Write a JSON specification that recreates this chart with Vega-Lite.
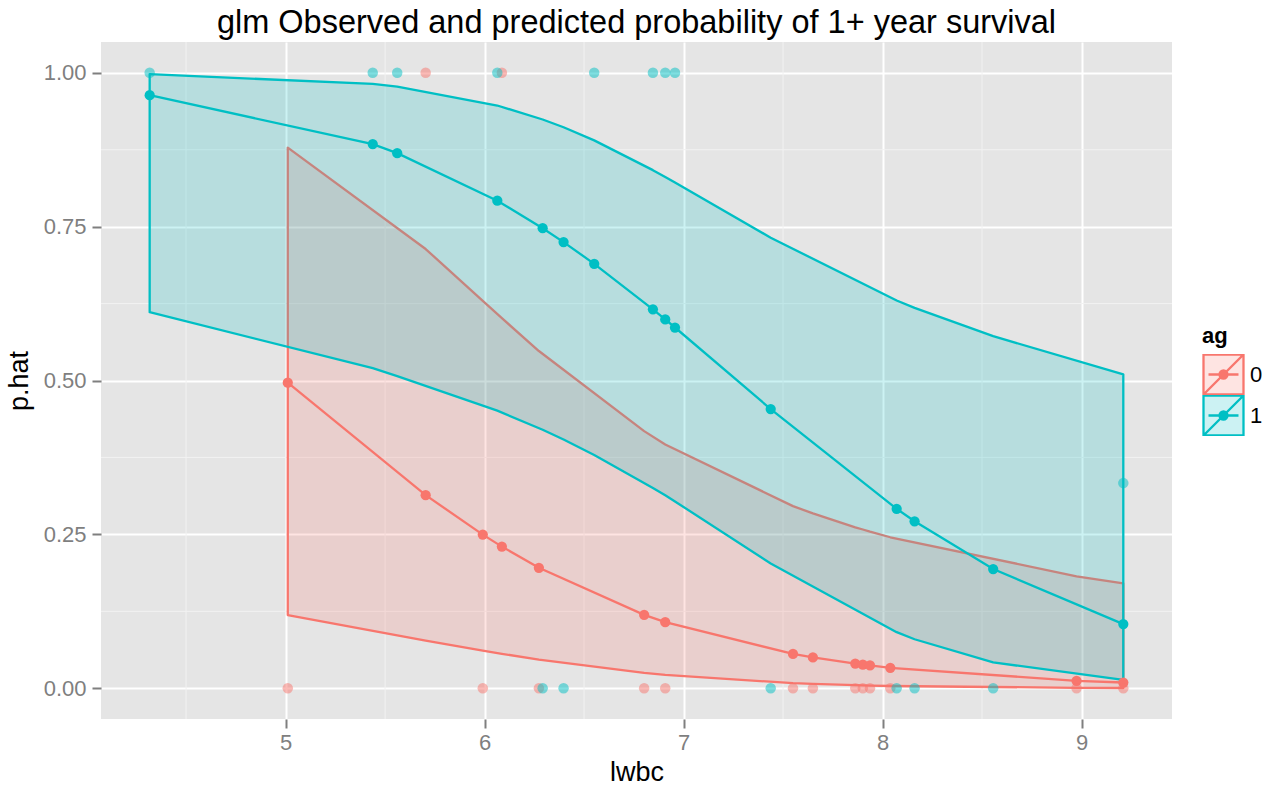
{
  "$schema": "https://vega.github.io/schema/vega-lite/v6.json",
  "width": 1071,
  "height": 677,
  "autosize": "none",
  "padding": {"left": 101, "top": 42, "right": 101, "bottom": 67},
  "background": "white",
  "config": {
    "font": "Liberation Sans",
    "view": {"fill": "#E5E5E5", "stroke": null},
    "axis": {
      "domain": false,
      "grid": true,
      "gridColor": "#FFFFFF",
      "gridWidth": 2,
      "tickColor": "#7F7F7F",
      "tickSize": 9,
      "tickWidth": 2,
      "labelColor": "#7F7F7F",
      "labelFontSize": 22,
      "labelFont": "Liberation Sans",
      "titleFont": "Liberation Sans",
      "titleFontSize": 27,
      "titleFontWeight": "normal",
      "titleColor": "#000000"
    }
  },
  "title": {
    "text": "glm Observed and predicted probability of 1+ year survival",
    "fontSize": 32.5,
    "fontWeight": "normal",
    "font": "Liberation Sans",
    "color": "#000000",
    "anchor": "middle",
    "offset": 2
  },
  "datasets": {
    "fit": [
      {"lwbc": 5.011, "ag": "0", "phat": 0.4965, "lo": 0.1188, "hi": 0.8783, "obs": 0},
      {"lwbc": 5.704, "ag": "0", "phat": 0.3137, "lo": 0.0774, "hi": 0.7136, "obs": 1},
      {"lwbc": 5.991, "ag": "0", "phat": 0.2496, "lo": 0.0611, "hi": 0.6295, "obs": 0},
      {"lwbc": 6.087, "ag": "0", "phat": 0.2301, "lo": 0.0560, "hi": 0.6013, "obs": 1},
      {"lwbc": 6.273, "ag": "0", "phat": 0.1957, "lo": 0.0465, "hi": 0.5479, "obs": 0},
      {"lwbc": 6.802, "ag": "0", "phat": 0.1192, "lo": 0.0249, "hi": 0.4177, "obs": 0},
      {"lwbc": 6.908, "ag": "0", "phat": 0.1074, "lo": 0.0216, "hi": 0.3960, "obs": 0},
      {"lwbc": 7.550, "ag": "0", "phat": 0.0557, "lo": 0.0082, "hi": 0.2959, "obs": 0},
      {"lwbc": 7.650, "ag": "0", "phat": 0.0501, "lo": 0.0070, "hi": 0.2840, "obs": 0},
      {"lwbc": 7.863, "ag": "0", "phat": 0.0400, "lo": 0.0049, "hi": 0.2615, "obs": 0},
      {"lwbc": 7.901, "ag": "0", "phat": 0.0384, "lo": 0.0046, "hi": 0.2579, "obs": 0},
      {"lwbc": 7.937, "ag": "0", "phat": 0.0370, "lo": 0.0043, "hi": 0.2544, "obs": 0},
      {"lwbc": 8.039, "ag": "0", "phat": 0.0332, "lo": 0.0036, "hi": 0.2453, "obs": 0},
      {"lwbc": 8.975, "ag": "0", "phat": 0.0120, "lo": 0.0007, "hi": 0.1819, "obs": 0},
      {"lwbc": 9.210, "ag": "0", "phat": 0.0093, "lo": 0.0004, "hi": 0.1702, "obs": 0},
      {"lwbc": 4.317, "ag": "1", "phat": 0.9636, "lo": 0.611, "hi": 0.9978, "obs": 1},
      {"lwbc": 5.438, "ag": "1", "phat": 0.8841, "lo": 0.520, "hi": 0.9818, "obs": 1},
      {"lwbc": 5.561, "ag": "1", "phat": 0.8694, "lo": 0.507, "hi": 0.9774, "obs": 1},
      {"lwbc": 6.064, "ag": "1", "phat": 0.7922, "lo": 0.451, "hi": 0.9468, "obs": 1},
      {"lwbc": 6.292, "ag": "1", "phat": 0.7475, "lo": 0.4200, "hi": 0.9241, "obs": 0},
      {"lwbc": 6.397, "ag": "1", "phat": 0.7249, "lo": 0.4040, "hi": 0.9115, "obs": 0},
      {"lwbc": 6.551, "ag": "1", "phat": 0.6896, "lo": 0.3790, "hi": 0.8902, "obs": 1},
      {"lwbc": 6.846, "ag": "1", "phat": 0.6156, "lo": 0.3255, "hi": 0.8418, "obs": 1},
      {"lwbc": 6.908, "ag": "1", "phat": 0.5992, "lo": 0.3135, "hi": 0.8306, "obs": 1},
      {"lwbc": 6.957, "ag": "1", "phat": 0.5861, "lo": 0.3035, "hi": 0.8218, "obs": 1},
      {"lwbc": 7.438, "ag": "1", "phat": 0.4536, "lo": 0.2026, "hi": 0.7320, "obs": 0},
      {"lwbc": 8.071, "ag": "1", "phat": 0.2915, "lo": 0.0911, "hi": 0.6300, "obs": 0},
      {"lwbc": 8.161, "ag": "1", "phat": 0.2713, "lo": 0.0796, "hi": 0.6180, "obs": 0},
      {"lwbc": 8.556, "ag": "1", "phat": 0.1937, "lo": 0.0420, "hi": 0.5720, "obs": 0},
      {"lwbc": 9.210, "ag": "1", "phat": 0.1042, "lo": 0.0135, "hi": 0.5100, "obs": 0.3333}
    ],
    "xminor": [{"m": 4.5}, {"m": 5.5}, {"m": 6.5}, {"m": 7.5}, {"m": 8.5}],
    "yminor": [{"m": 0.125}, {"m": 0.375}, {"m": 0.625}, {"m": 0.875}]
  },
  "encoding": {
    "x": {
      "type": "quantitative",
      "scale": {"domain": [4.0724, 9.4547], "nice": false, "zero": false},
      "axis": {"values": [5, 6, 7, 8, 9], "title": "lwbc", "labelPadding": 4, "titlePadding": 6}
    },
    "y": {
      "type": "quantitative",
      "scale": {"domain": [-0.05, 1.05], "nice": false, "zero": false},
      "axis": {"values": [0, 0.25, 0.5, 0.75, 1], "format": ".2f", "title": "p.hat", "labelPadding": 6, "titlePadding": 10}
    }
  },
  "layer": [
    {
      "data": {"name": "xminor"},
      "mark": {"type": "rule", "color": "#F2F2F2", "strokeWidth": 1},
      "encoding": {"x": {"field": "m", "type": "quantitative"}}
    },
    {
      "data": {"name": "yminor"},
      "mark": {"type": "rule", "color": "#F2F2F2", "strokeWidth": 1},
      "encoding": {"y": {"field": "m", "type": "quantitative"}}
    },
    {
      "data": {"name": "fit"},
      "mark": {"type": "area", "fillOpacity": 0.2, "strokeWidth": 2.3, "strokeJoin": "round"},
      "encoding": {
        "x": {"field": "lwbc", "type": "quantitative"},
        "y": {"field": "lo", "type": "quantitative"},
        "y2": {"field": "hi"},
        "color": {
          "field": "ag",
          "type": "nominal",
          "scale": {"domain": ["0", "1"], "range": ["#F8766D", "#00BFC4"]},
          "legend": {
            "title": "ag",
            "orient": "none",
            "legendX": 1101,
            "legendY": 284,
            "titleFontSize": 22,
            "titleFontWeight": "bold",
            "titleColor": "#000000",
            "titlePadding": 6,
            "labelFontSize": 22,
            "labelColor": "#000000",
            "labelOffset": 9,
            "symbolType": "M-1,-1.111H1.222V1.111H-1Z M-1,1.111L1.222,-1.111 M-0.722,0H0.944 M-0.111,0A0.222,0.222 0 1,0 0.333,0A0.222,0.222 0 1,0 -0.111,0 M0.011,0A0.1,0.1 0 1,0 0.211,0A0.1,0.1 0 1,0 0.011,0",
            "symbolSize": 1296,
            "symbolStrokeWidth": 2.3,
            "rowPadding": 0,
            "clipHeight": 41,
            "padding": 0,
            "encode": {
              "symbols": {
                "update": {
                  "fill": {"scale": "color", "field": "value"},
                  "fillOpacity": {"value": 0.2},
                  "stroke": {"scale": "color", "field": "value"},
                  "strokeWidth": {"value": 2.3},
                  "opacity": {"value": 1}
                }
              }
            }
          }
        },
        "stroke": {
          "field": "ag",
          "type": "nominal",
          "scale": {"domain": ["0", "1"], "range": ["#F8766D", "#00BFC4"]},
          "legend": null
        }
      }
    },
    {
      "data": {"name": "fit"},
      "mark": {"type": "line", "strokeWidth": 2.3},
      "encoding": {
        "x": {"field": "lwbc", "type": "quantitative"},
        "y": {"field": "phat", "type": "quantitative"},
        "color": {"field": "ag", "type": "nominal"}
      }
    },
    {
      "data": {"name": "fit"},
      "mark": {"type": "point", "filled": true, "size": 105, "opacity": 1},
      "encoding": {
        "x": {"field": "lwbc", "type": "quantitative"},
        "y": {"field": "phat", "type": "quantitative"},
        "color": {"field": "ag", "type": "nominal"}
      }
    },
    {
      "data": {"name": "fit"},
      "mark": {"type": "point", "filled": true, "size": 110, "opacity": 0.5},
      "encoding": {
        "x": {"field": "lwbc", "type": "quantitative"},
        "y": {"field": "obs", "type": "quantitative"},
        "color": {"field": "ag", "type": "nominal"}
      }
    }
  ]
}
